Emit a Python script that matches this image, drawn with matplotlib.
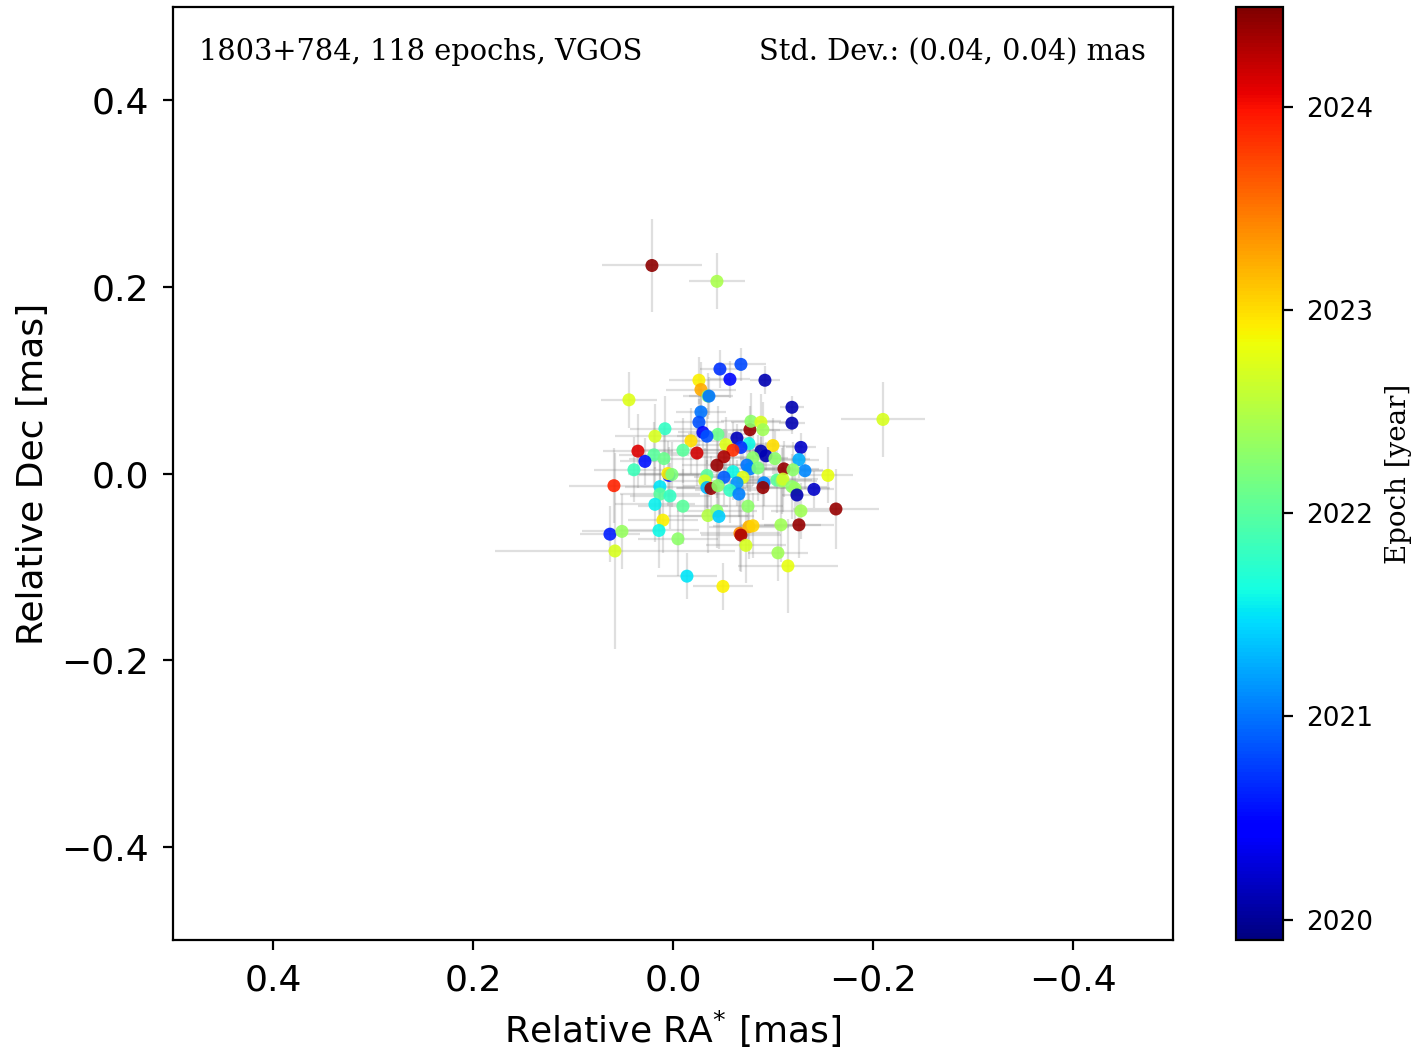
import matplotlib
matplotlib.use('Agg')
import matplotlib.pyplot as plt
import numpy as np

# positions relative to mean, mas
ra = [0.021, -0.044, -0.047, -0.068, -0.057, -0.092, -0.026, -0.028, -0.035, -0.036,
      0.044, -0.210, -0.119, -0.119, -0.028, -0.026, -0.030, 0.008, 0.018, -0.018,
      -0.045, -0.034, -0.077, -0.078, -0.088, -0.090, -0.064, -0.076, -0.053, -0.068,
      -0.100, -0.128, 0.035, -0.010, -0.024, -0.060, -0.051, -0.088, -0.093, 0.019,
      0.009, 0.028, -0.044, -0.080, -0.102, -0.126, -0.074, -0.077, -0.085, -0.111,
      -0.132, -0.120, 0.039, -0.060, -0.155, 0.004, 0.005, 0.001, -0.034, -0.051,
      -0.070, -0.104, -0.109, -0.110, -0.032, -0.064, -0.091, 0.059, 0.013, -0.034,
      -0.038, -0.045, -0.057, -0.066, -0.090, -0.119, -0.122, -0.124, -0.141, 0.013,
      0.003, 0.018, -0.010, -0.075, -0.163, -0.128, 0.010, -0.035, -0.044, -0.046,
      -0.067, -0.076, -0.080, -0.068, -0.108, -0.126, 0.063, 0.051, 0.014, -0.005,
      -0.073, 0.058, -0.105, -0.115, -0.014, -0.050]
dec = [0.223, 0.206, 0.112, 0.117, 0.101, 0.100, 0.100, 0.090, 0.083, 0.083,
       0.079, 0.058, 0.071, 0.054, 0.066, 0.055, 0.044, 0.048, 0.040, 0.035,
       0.042, 0.040, 0.047, 0.056, 0.055, 0.047, 0.038, 0.032, 0.031, 0.028,
       0.030, 0.028, 0.024, 0.025, 0.022, 0.025, 0.018, 0.024, 0.019, 0.020,
       0.016, 0.013, 0.009, 0.017, 0.016, 0.015, 0.009, 0.005, 0.006, 0.005,
       0.003, 0.004, 0.004, 0.002, -0.002, -0.002, 0.000, -0.001, -0.002, -0.004,
       -0.004, -0.007, -0.008, -0.006, -0.008, -0.010, -0.010, -0.013, -0.014, -0.015,
       -0.016, -0.013, -0.018, -0.022, -0.015, -0.014, -0.016, -0.023, -0.017, -0.022,
       -0.024, -0.033, -0.035, -0.035, -0.038, -0.040, -0.050, -0.045, -0.040, -0.046,
       -0.064, -0.057, -0.056, -0.066, -0.055, -0.055, -0.065, -0.062, -0.061, -0.070,
       -0.077, -0.083, -0.085, -0.099, -0.110, -0.121]
epoch = [2024.42, 2022.45, 2020.70, 2020.80, 2020.50, 2020.10, 2022.90, 2023.25, 2022.30, 2021.00,
         2022.75, 2022.70, 2020.10, 2020.10, 2021.00, 2020.85, 2020.50, 2021.80, 2022.70, 2023.00,
         2022.10, 2020.85, 2024.40, 2022.30, 2022.70, 2022.40, 2020.15, 2021.60, 2022.75, 2020.70,
         2023.00, 2020.20, 2024.10, 2022.00, 2024.15, 2023.85, 2024.30, 2020.10, 2020.10, 2022.00,
         2022.10, 2020.55, 2024.40, 2022.30, 2022.30, 2021.25, 2021.00, 2021.05, 2022.20, 2024.40,
         2021.10, 2022.30, 2021.85, 2021.60, 2022.80, 2020.60, 2022.90, 2022.20, 2022.00, 2020.90,
         2022.75, 2022.00, 2022.35, 2022.65, 2022.70, 2021.15, 2021.10, 2023.90, 2021.50, 2021.30,
         2024.40, 2022.30, 2021.80, 2021.05, 2024.40, 2022.30, 2022.35, 2020.10, 2020.20, 2022.00,
         2021.80, 2021.55, 2022.00, 2022.30, 2024.40, 2022.40, 2022.90, 2022.50, 2022.30, 2021.40,
         2023.40, 2023.20, 2023.05, 2024.30, 2022.40, 2024.40, 2020.60, 2022.35, 2021.60, 2022.30,
         2022.70, 2022.70, 2022.40, 2022.80, 2021.50, 2022.90]
ra_err = [0.050, 0.028, 0.020, 0.025, 0.020, 0.015, 0.030, 0.035, 0.025, 0.020,
          0.028, 0.042, 0.012, 0.013, 0.025, 0.025, 0.025, 0.035, 0.040, 0.035,
          0.030, 0.030, 0.030, 0.030, 0.030, 0.030, 0.015, 0.030, 0.035, 0.020,
          0.030, 0.015, 0.035, 0.040, 0.035, 0.030, 0.030, 0.015, 0.015, 0.035,
          0.035, 0.025, 0.035, 0.035, 0.035, 0.020, 0.025, 0.025, 0.035, 0.035,
          0.025, 0.030, 0.040, 0.030, 0.025, 0.030, 0.040, 0.040, 0.035, 0.030,
          0.035, 0.035, 0.035, 0.035, 0.035, 0.025, 0.025, 0.045, 0.035, 0.030,
          0.035, 0.035, 0.035, 0.025, 0.035, 0.035, 0.035, 0.015, 0.020, 0.040,
          0.040, 0.040, 0.045, 0.035, 0.043, 0.030, 0.035, 0.040, 0.040, 0.035,
          0.040, 0.040, 0.040, 0.040, 0.040, 0.035, 0.030, 0.040, 0.040, 0.040,
          0.040, 0.120, 0.030, 0.050, 0.030, 0.030]
dec_err = [0.050, 0.030, 0.020, 0.018, 0.020, 0.015, 0.025, 0.030, 0.025, 0.020,
           0.030, 0.040, 0.012, 0.012, 0.025, 0.025, 0.025, 0.035, 0.035, 0.035,
           0.030, 0.030, 0.025, 0.030, 0.030, 0.030, 0.015, 0.030, 0.030, 0.020,
           0.030, 0.015, 0.040, 0.035, 0.035, 0.030, 0.030, 0.015, 0.015, 0.035,
           0.035, 0.025, 0.035, 0.030, 0.030, 0.020, 0.025, 0.025, 0.035, 0.030,
           0.020, 0.030, 0.035, 0.030, 0.030, 0.030, 0.035, 0.035, 0.035, 0.030,
           0.035, 0.035, 0.035, 0.035, 0.035, 0.025, 0.025, 0.040, 0.035, 0.030,
           0.035, 0.035, 0.035, 0.025, 0.035, 0.035, 0.035, 0.015, 0.020, 0.035,
           0.035, 0.040, 0.040, 0.035, 0.043, 0.030, 0.035, 0.040, 0.040, 0.035,
           0.040, 0.035, 0.035, 0.040, 0.040, 0.035, 0.030, 0.040, 0.040, 0.040,
           0.040, 0.105, 0.030, 0.050, 0.025, 0.025]

fig = plt.figure(figsize=(7.065, 5.265), dpi=200)
ax = fig.add_axes([0.1224, 0.1073, 0.7077, 0.8860])
cax = fig.add_axes([0.8747, 0.1073, 0.0333, 0.8860])

ax.errorbar(ra, dec, xerr=ra_err, yerr=dec_err, fmt='none', ecolor='gray',
            elinewidth=0.8, alpha=0.25, zorder=1)
sc = ax.scatter(ra, dec, c=epoch, cmap='jet', vmin=2019.9, vmax=2024.49,
                s=22, edgecolors='none', alpha=0.9, zorder=2)

ax.set_xlim(0.5, -0.5)
ax.set_ylim(-0.5, 0.5)
ax.set_xticks([0.4, 0.2, 0.0, -0.2, -0.4])
ax.set_yticks([-0.4, -0.2, 0.0, 0.2, 0.4])
ax.tick_params(labelsize=13, pad=5)
ax.set_xlabel(r'Relative RA$^{*}$ [mas]', fontsize=13)
ax.set_ylabel('Relative Dec [mas]', fontsize=13)

ax.text(0.026, 0.952, '1803+784, 118 epochs, VGOS', transform=ax.transAxes,
        family='DejaVu Serif', fontsize=10.4, ha='left', va='center')
ax.text(0.973, 0.952, 'Std. Dev.: (0.04, 0.04) mas', transform=ax.transAxes,
        family='DejaVu Serif', fontsize=10.4, ha='right', va='center')

cb = fig.colorbar(sc, cax=cax)
cb.solids.set_alpha(1)
cb.set_ticks([2020, 2021, 2022, 2023, 2024])
cb.ax.tick_params(labelsize=9.5, pad=5)
cb.set_label('Epoch [year]', family='DejaVu Serif', fontsize=10, labelpad=4)

plt.savefig('out.png', dpi=200)
